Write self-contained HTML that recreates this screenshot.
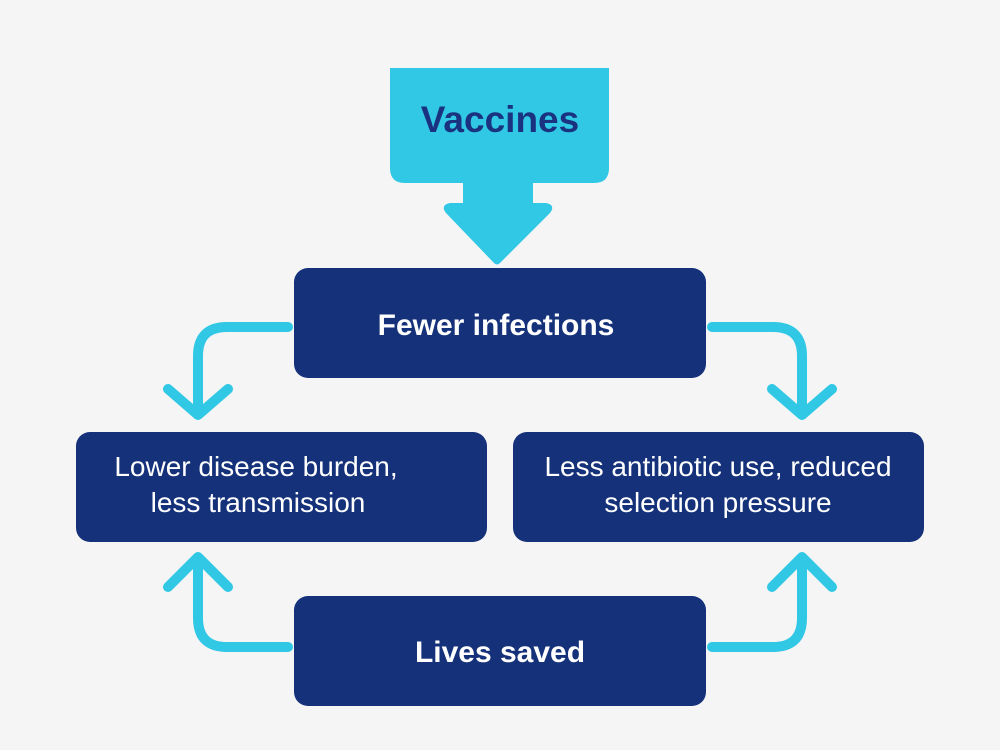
<!DOCTYPE html>
<html><head><meta charset="utf-8"><style>
html,body{margin:0;padding:0;background:#f5f5f5;}
svg{display:block;}
text{font-family:"Liberation Sans",sans-serif;}
</style></head><body>
<svg width="1000" height="750" viewBox="0 0 1000 750" xmlns="http://www.w3.org/2000/svg">
<rect width="1000" height="750" fill="#f5f5f5"/>
<path d="M390 68 H609 V168 Q609 183 594 183 H533 V203 H546 Q556 205 550 213 L500 263 Q497 266 494 263 L446 213 Q440 205 450 203 H463 V183 H405 Q390 183 390 168 Z" fill="#30c8e4"/>
<text x="500" y="132" text-anchor="middle" font-size="37" font-weight="bold" fill="#1a3280">Vaccines</text>
<g fill="#14317a">
<rect x="294" y="268" width="412" height="110" rx="14"/>
<rect x="76" y="432" width="411" height="110" rx="14"/>
<rect x="513" y="432" width="411" height="110" rx="14"/>
<rect x="294" y="596" width="412" height="110" rx="14"/>
</g>
<g fill="#fff" text-anchor="middle">
<text x="496" y="335" font-size="30" font-weight="bold">Fewer infections</text>
<text x="256" y="476" font-size="28">Lower disease burden,</text>
<text x="258" y="512" font-size="28">less transmission</text>
<text x="718" y="476" font-size="28">Less antibiotic use, reduced</text>
<text x="718" y="512" font-size="28">selection pressure</text>
<text x="500" y="662" font-size="30" font-weight="bold">Lives saved</text>
</g>
<g fill="none" stroke="#30c8e4" stroke-width="10" stroke-linecap="round" stroke-linejoin="round">
<path d="M288 327 H227 Q198 327 198 356 V412"/>
<path d="M168 389 L198 415 L228 389"/>
<path d="M712 327 H773 Q802 327 802 356 V412"/>
<path d="M772 389 L802 415 L832 389"/>
<path d="M288 647 H227 Q198 647 198 618 V560"/>
<path d="M168 587 L198 557 L228 587"/>
<path d="M712 647 H773 Q802 647 802 618 V560"/>
<path d="M772 587 L802 557 L832 587"/>
</g>
</svg>
</body></html>
